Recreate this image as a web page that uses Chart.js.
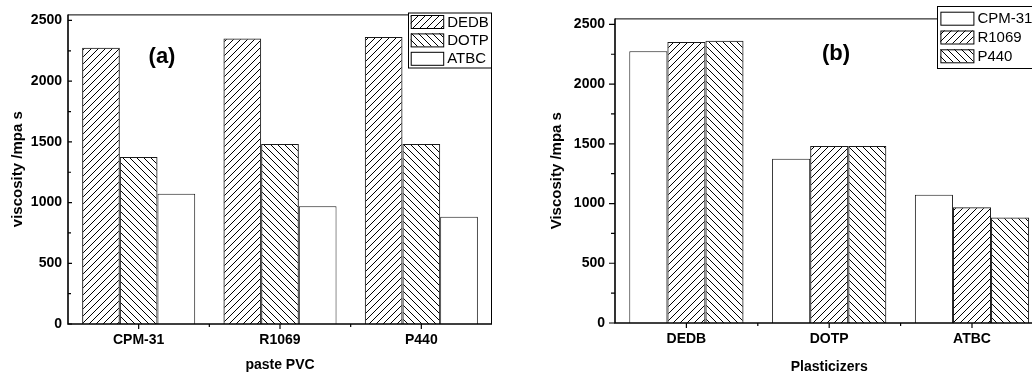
<!DOCTYPE html>
<html>
<head>
<meta charset="utf-8">
<script src="https://cdn.jsdelivr.net/npm/chart.js@4.4.1/dist/chart.umd.min.js"></script>
<style>
  html, body { margin: 0; padding: 0; width: 1032px; height: 376px; overflow: hidden; background: #fff; }
  canvas { position: absolute; top: 0; }
  #ca { left: 0; }
  #cb { left: 520px; }
</style>
</head>
<body>
<canvas id="ca" width="520" height="376"></canvas>
<canvas id="cb" width="560" height="376"></canvas>
<script>
// Paste PVC resin grades and plasticizers
const GRADES = ['CPM-31', 'R1069', 'P440'];
const PLASTICIZERS = ['DEDB', 'DOTP', 'ATBC'];

// Viscosity (mPa·s) of each plasticizer, one value per resin grade (GRADES order)
const DEDB = [2275, 2352, 2363];
const DOTP = [1376, 1482, 1482];
const ATBC = [1073, 970, 883];

// Value-axis ticks
const Y_TICKS = [0, 500, 1000, 1500, 2000, 2500];
const Y_MINOR = [250, 750, 1250, 1750, 2250];
const Y_MAX = 2550;

const FONT = "'Liberation Sans', Arial, sans-serif";

// Hatch fills: '/' forward diagonal, '\\' backward diagonal
function hatch(dir) {
  const s = 7;
  const tile = document.createElement('canvas');
  tile.width = s; tile.height = s;
  const g = tile.getContext('2d');
  g.strokeStyle = '#000';
  g.lineWidth = 1;
  g.beginPath();
  if (dir === '/') {
    g.moveTo(-1, s + 1); g.lineTo(s + 1, -1);
    g.moveTo(-1, 1); g.lineTo(1, -1);
    g.moveTo(s - 1, s + 1); g.lineTo(s + 1, s - 1);
  } else {
    g.moveTo(-1, -1); g.lineTo(s + 1, s + 1);
    g.moveTo(s - 1, -1); g.lineTo(s + 1, 1);
    g.moveTo(-1, s - 1); g.lineTo(1, s + 1);
  }
  g.stroke();
  return document.createElement('canvas').getContext('2d').createPattern(tile, 'repeat');
}
const FWD = hatch('/');
const BCK = hatch('\\');
const PLAIN = '#ffffff';

// Axes, tick marks, frame, legend and panel tag
const decor = {
  id: 'decor',
  afterDraw(chart, args, o) {
    const { ctx, chartArea: a, scales: { x, y } } = chart;
    ctx.save();
    ctx.strokeStyle = '#000';

    // thin frame on top and right
    ctx.lineWidth = 1;
    ctx.beginPath();
    ctx.moveTo(a.left, a.top + 0.5); ctx.lineTo(a.right, a.top + 0.5);
    ctx.moveTo(a.right - 0.5, a.top); ctx.lineTo(a.right - 0.5, a.bottom);
    ctx.stroke();

    // main axes
    ctx.lineWidth = 1.6;
    ctx.beginPath();
    ctx.moveTo(a.left, a.top); ctx.lineTo(a.left, a.bottom);
    ctx.moveTo(a.left - 0.8, a.bottom); ctx.lineTo(a.right, a.bottom);
    ctx.stroke();

    // y tick marks
    ctx.lineWidth = 1.2;
    ctx.beginPath();
    Y_TICKS.forEach(v => {
      const p = y.getPixelForValue(v);
      ctx.moveTo(a.left, p); ctx.lineTo(a.left + o.yDir * o.yMajor, p);
    });
    Y_MINOR.forEach(v => {
      const p = y.getPixelForValue(v);
      ctx.moveTo(a.left, p); ctx.lineTo(a.left + o.yDir * o.yMinor, p);
    });
    // x tick marks: centres and boundaries
    const n = chart.data.labels.length;
    for (let i = 0; i < n; i++) {
      const p = x.getPixelForValue(i);
      ctx.moveTo(p, a.bottom); ctx.lineTo(p, a.bottom + o.xMajor);
    }
    for (let i = 0; i < n - 1; i++) {
      const p = (x.getPixelForValue(i) + x.getPixelForValue(i + 1)) / 2;
      ctx.moveTo(p, a.bottom); ctx.lineTo(p, a.bottom + o.xMinor);
    }
    ctx.stroke();

    // legend
    const L = o.legend;
    ctx.fillStyle = '#fff';
    ctx.fillRect(L.x, L.y, L.w, L.h);
    ctx.lineWidth = 1;
    ctx.strokeRect(L.x + 0.5, L.y + 0.5, L.w, L.h);
    ctx.font = '15px ' + FONT;
    ctx.textBaseline = 'middle';
    ctx.textAlign = 'left';
    chart.data.datasets.forEach((ds, i) => {
      const px = L.x + L.px, py = L.y + L.py + i * L.row;
      ctx.fillStyle = ds.backgroundColor;
      ctx.fillRect(px, py, L.pw, L.ph);
      ctx.strokeStyle = '#000';
      ctx.strokeRect(px + 0.5, py + 0.5, L.pw, L.ph);
      ctx.fillStyle = '#000';
      ctx.fillText(ds.label, px + L.pw + 4, py + L.ph / 2 + 1);
    });

    // panel tag
    ctx.font = 'bold 22px ' + FONT;
    ctx.textAlign = 'center';
    ctx.fillStyle = '#000';
    ctx.fillText(o.tag.text, o.tag.x, o.tag.y);
    ctx.restore();
  }
};

function makeChart(id, labels, series, o) {
  return new Chart(document.getElementById(id), {
    type: 'bar',
    data: {
      labels: labels,
      datasets: series.map(s => ({
        label: s.label,
        data: s.data,
        backgroundColor: s.fill,
        borderColor: '#1a1a1a',
        borderWidth: 1,
        categoryPercentage: 0.8,
        barPercentage: 1.0
      }))
    },
    options: {
      responsive: false,
      animation: false,
      devicePixelRatio: 1,
      layout: { padding: { left: 0, top: o.top, right: o.right, bottom: 0 } },
      plugins: { legend: { display: false }, tooltip: { enabled: false }, decor: o },
      scales: {
        x: {
          grid: { display: false, drawTicks: false },
          border: { display: false },
          ticks: { padding: 8, color: '#000', maxRotation: 0, autoSkip: false,
                   font: { family: FONT, size: 14, weight: 'bold' } },
          title: { display: true, text: o.xTitle, color: '#000',
                   font: { family: FONT, size: 14, weight: 'bold' },
                   padding: { top: 0, bottom: o.xTitlePad } },
          afterFit(s) { s.height = o.xh; }
        },
        y: {
          min: 0, max: Y_MAX,
          grid: { display: false, drawTicks: false },
          border: { display: false },
          ticks: { padding: o.yPad, color: '#000',
                   font: { family: FONT, size: 14, weight: 'bold' },
                   callback: v => String(v) },
          afterBuildTicks(s) { s.ticks = Y_TICKS.map(v => ({ value: v })); },
          title: { display: true, text: o.yTitle, color: '#000',
                   font: { family: FONT, size: 15, weight: 'bold' },
                   padding: { top: o.yTitlePad, bottom: 0 } },
          afterFit(s) { s.width = o.yw; }
        }
      }
    },
    plugins: [decor]
  });
}

// (a) viscosity grouped by resin grade
makeChart('ca', GRADES, [
  { label: 'DEDB', data: DEDB, fill: FWD },
  { label: 'DOTP', data: DOTP, fill: BCK },
  { label: 'ATBC', data: ATBC, fill: PLAIN }
], {
  top: 11, right: 28, yw: 68, xh: 52, yPad: 6, yTitlePad: 9.3, xTitlePad: 2.6,
  xTitle: 'paste PVC', yTitle: 'viscosity /mpa s',
  yDir: 1, yMajor: 4, yMinor: 3, xMajor: 5, xMinor: 3,
  legend: { x: 408, y: 12.5, w: 83, h: 55, px: 2.7, py: 2.5, row: 18.4, pw: 32.5, ph: 13 },
  tag: { text: '(a)', x: 162, y: 57 }
});

// (b) viscosity grouped by plasticizer
const byGrade = g => [DEDB[g], DOTP[g], ATBC[g]];
makeChart('cb', PLASTICIZERS, [
  { label: GRADES[0], data: byGrade(0), fill: PLAIN },
  { label: GRADES[1], data: byGrade(1), fill: FWD },
  { label: GRADES[2], data: byGrade(2), fill: BCK }
], {
  top: 7, right: 36.6, yw: 95, xh: 53, yPad: 10, yTitlePad: 28, xTitlePad: 0,
  xTitle: 'Plasticizers', yTitle: 'Viscosity /mpa s',
  yDir: -1, yMajor: 6, yMinor: 4, xMajor: 5, xMinor: 3,
  legend: { x: 417, y: 6, w: 200, h: 62, px: 3.4, py: 5.7, row: 18.8, pw: 33, ph: 13 },
  tag: { text: '(b)', x: 316, y: 54 }
});
</script>
</body>
</html>
